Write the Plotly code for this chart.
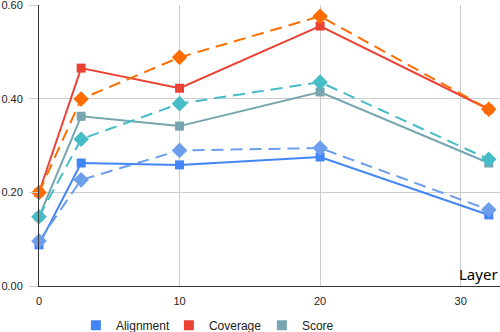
import plotly.graph_objects as go

layers = [0, 3, 10, 20, 32]

alignment = [0.088, 0.263, 0.259, 0.276, 0.152]
alignment_b = [0.096, 0.227, 0.290, 0.295, 0.163]
coverage = [0.200, 0.466, 0.423, 0.556, 0.378]
coverage_b = [0.200, 0.400, 0.489, 0.577, 0.378]
score = [0.148, 0.363, 0.342, 0.415, 0.263]
score_b = [0.148, 0.314, 0.390, 0.436, 0.271]

y_ticks = [0.0, 0.2, 0.4, 0.6]
x_ticks = [0, 10, 20, 30]

fig = go.Figure()

# solid series with square markers
solid = [
    ('Alignment', alignment, '#4285F4'),
    ('Coverage', coverage, '#EA4335'),
    ('Score', score, '#76A5AF'),
]
# dashed series with diamond markers
dashed = [
    (alignment_b, '#6D9EEB'),
    (coverage_b, '#FF6D01'),
    (score_b, '#46BDC6'),
]

for name, vals, color in solid:
    fig.add_trace(go.Scatter(
        x=layers, y=vals, mode='lines+markers', showlegend=False,
        line=dict(color=color, width=2),
        marker=dict(symbol='square', size=9, color=color),
        cliponaxis=False,
    ))

for vals, color in dashed:
    fig.add_trace(go.Scatter(
        x=layers, y=vals, mode='lines+markers', showlegend=False,
        line=dict(color=color, width=2, dash='12px,7px'),
        marker=dict(symbol='diamond', size=12, color=color),
        cliponaxis=False,
    ))

# legend entries (squares only)
for name, vals, color in solid:
    fig.add_trace(go.Scatter(
        x=[None], y=[None], mode='markers', name=name,
        marker=dict(symbol='square', size=10, color=color),
    ))

fig.update_layout(
    width=500, height=332,
    margin=dict(l=39, r=0, t=5, b=46, autoexpand=False),
    plot_bgcolor='white', paper_bgcolor='white',
    font=dict(family='Liberation Sans, Arial', size=11, color='#222222'),
    legend=dict(orientation='h', x=0.08, xanchor='left',
                y=-0.088, yanchor='top',
                font=dict(size=12), itemwidth=30, entrywidth=48, tracegroupgap=0),
    annotations=[dict(
        text='Layer', x=1, xref='paper', xanchor='right',
        y=0, yref='paper', yanchor='bottom', showarrow=False,
        font=dict(family='Noto Sans', size=15, color='#000000'),
    )],
)

fig.update_xaxes(
    range=[0, 32.8], tickvals=x_ticks, showgrid=True, gridcolor='#cccccc',
    zeroline=False, showline=True, linecolor='#333333', linewidth=1,
    ticks='', ticklabelstandoff=5, automargin=False,
)
fig.update_yaxes(
    range=[0, 0.601], tickvals=y_ticks, tickformat='.2f', showgrid=True,
    gridcolor='#cccccc', zeroline=False, showline=True, linecolor='#333333',
    linewidth=1, ticks='outside', ticklen=9, tickcolor='#cccccc',
    ticklabelstandoff=4, ticklabeloverflow='allow', automargin=False,
)

fig.write_html("out.html", config={'displayModeBar': False},
               post_script="document.body.style.margin='0';")
